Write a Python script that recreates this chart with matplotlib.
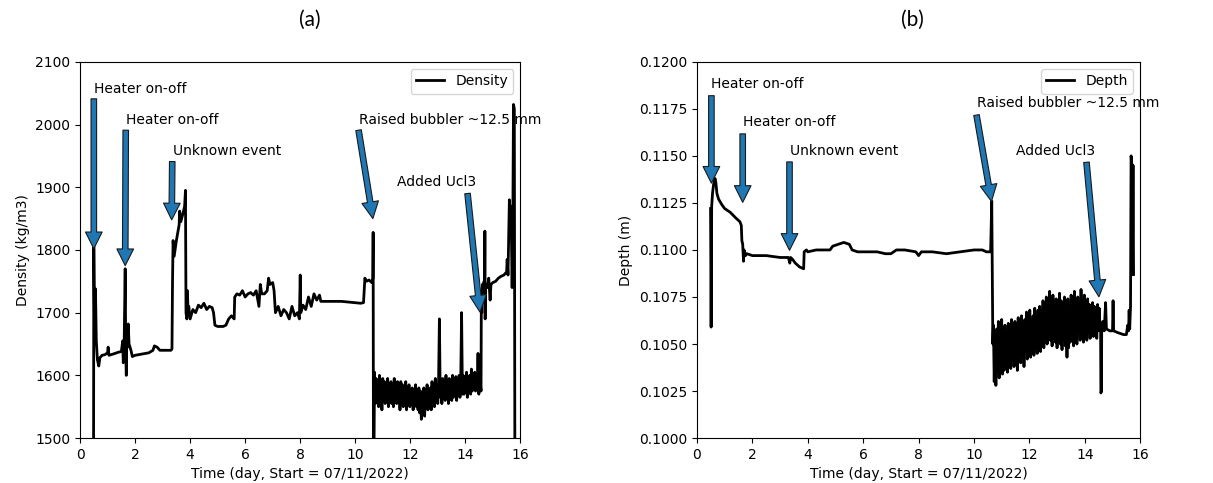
#!/usr/bin/env python3
import numpy as np
import matplotlib
matplotlib.use("Agg")
import matplotlib.pyplot as plt

# --- Density (kg/m3) ---
dens_t_start = [0.49, 0.50, 0.53, 0.56, 0.59, 0.63, 0.68, 0.72, 0.80, 0.90, 1.00, 1.02, 1.05,
                1.20, 1.40, 1.50, 1.55, 1.57, 1.60, 1.64, 1.66, 1.68, 1.70, 1.72, 1.75, 1.78,
                1.85, 1.90, 2.00, 2.50, 2.65, 2.70, 2.80, 2.90, 3.30, 3.34, 3.36, 3.38, 3.42,
                3.50, 3.60, 3.62, 3.66, 3.75, 3.80, 3.83, 3.85, 3.88, 3.90, 3.93, 3.95, 4.00,
                4.10, 4.20, 4.30, 4.40, 4.50, 4.60, 4.70, 4.80, 4.85, 4.90, 5.00, 5.20, 5.30,
                5.40, 5.50, 5.60, 5.62, 5.70, 5.80, 5.90, 6.00, 6.10, 6.20, 6.30, 6.40, 6.50,
                6.55, 6.60, 6.70, 6.80, 6.85, 6.90, 7.00, 7.05, 7.10, 7.20, 7.30, 7.40, 7.50,
                7.60, 7.70, 7.80, 7.90, 7.97, 8.00, 8.02, 8.10, 8.20, 8.30, 8.40, 8.50, 8.60,
                8.70, 8.75, 8.90, 9.50, 10.20, 10.30, 10.35, 10.40, 10.50, 10.60, 10.64,
                10.65, 10.66, 10.68]
dens_v_start = [1450, 1805, 1650, 1738, 1655, 1625, 1615, 1628, 1632, 1633, 1636, 1645, 1632,
                1634, 1637, 1638, 1655, 1620, 1642, 1770, 1640, 1600, 1662, 1645, 1682, 1650,
                1640, 1630, 1632, 1636, 1640, 1647, 1645, 1640, 1640, 1642, 1750, 1815, 1790,
                1815, 1840, 1862, 1845, 1860, 1870, 1895, 1700, 1690, 1735, 1695, 1710, 1690,
                1705, 1700, 1712, 1708, 1715, 1705, 1710, 1708, 1700, 1680, 1678, 1678, 1680,
                1690, 1695, 1690, 1725, 1730, 1728, 1735, 1725, 1730, 1732, 1728, 1735, 1710,
                1745, 1730, 1730, 1735, 1755, 1745, 1748, 1735, 1700, 1710, 1695, 1705, 1700,
                1690, 1710, 1695, 1700, 1690, 1760, 1700, 1712, 1705, 1725, 1710, 1730, 1720,
                1728, 1718, 1718, 1718, 1715, 1716, 1755, 1750, 1752, 1748, 1755,
                1828, 1480, 1470]
# noisy section after raising the bubbler (10.70 -> 14.55 d)
dens_band = [1605, 1555, 1595, 1560, 1590, 1550, 1600, 1565, 1585, 1545, 1595, 1560, 1590, 1555,
             1580, 1560, 1595, 1550, 1585, 1565, 1590, 1555, 1580, 1550, 1595, 1560, 1585,
             1555, 1590, 1560, 1580, 1545, 1590, 1555, 1585, 1550, 1575, 1560, 1590, 1545,
             1580, 1555, 1585, 1550, 1575, 1560, 1580, 1545, 1575, 1555, 1585, 1550, 1570, 1545,
             1580, 1540, 1575, 1530, 1570, 1545, 1580, 1535, 1575, 1550, 1585, 1545, 1575,
             1555, 1580, 1545, 1590, 1560, 1580, 1550, 1595, 1560, 1585, 1555, 1592, 1690, 1565,
             1590, 1555, 1595, 1565, 1585, 1560, 1600, 1565, 1590, 1555, 1595, 1570, 1585,
             1560, 1600, 1565, 1590, 1570, 1598, 1560, 1590, 1575, 1600, 1565, 1595, 1700, 1570,
             1600, 1570, 1595, 1575, 1605, 1565, 1598, 1580, 1600, 1570, 1610, 1575, 1595,
             1580, 1605, 1575, 1600, 1580, 1635, 1570, 1605, 1585]
dens_t_end = [14.57, 14.58, 14.60, 14.62, 14.65, 14.68, 14.70, 14.71, 14.72, 14.74, 14.80, 14.85,
              14.90, 14.93, 15.00, 15.10, 15.20, 15.30, 15.40, 15.50, 15.52, 15.55, 15.60, 15.63,
              15.66, 15.70, 15.72, 15.75, 15.78, 15.80]
dens_v_end = [1575, 1705, 1700, 1745, 1735, 1750, 1740, 1830, 1690, 1745, 1740, 1755,
              1720, 1745, 1748, 1750, 1755, 1758, 1760, 1765, 1785, 1760, 1880, 1840,
              1870, 1740, 1800, 2032, 2025, 1450]

# --- Depth (mm) ---
dep_t_start = [0.49, 0.51, 0.53, 0.56, 0.60, 0.65, 0.68, 0.72, 0.78, 0.90, 1.00, 1.20, 1.40,
               1.55, 1.60, 1.62, 1.65, 1.68, 1.70, 1.75, 1.80, 2.00, 2.50, 3.00, 3.30, 3.35,
               3.38, 3.45, 3.55, 3.70, 3.85, 3.87, 3.95, 4.00, 4.30, 4.50, 4.80, 4.90, 5.10,
               5.30, 5.50, 5.60, 5.80, 6.20, 6.50, 6.80, 7.00, 7.20, 7.50, 7.90, 8.00, 8.10,
               8.50, 9.00, 9.50, 10.00, 10.30, 10.45, 10.60, 10.64, 10.66, 10.68]
dep_v_start = [112.2, 105.9, 112.3, 113.0, 113.5, 113.8, 113.6, 113.0, 112.7, 112.4, 112.2, 112.0,
               111.7, 111.5, 111.3, 110.5, 110.3, 109.4, 110.0, 109.7, 109.8, 109.7, 109.7,
               109.6, 109.6, 109.3, 109.6, 109.5, 109.3, 109.1, 109.0, 109.9, 110.0, 109.9,
               110.0, 110.0, 110.0, 110.2, 110.3, 110.4, 110.3, 110.0, 109.9, 109.9, 109.9,
               109.8, 109.8, 110.0, 110.0, 109.9, 109.7, 109.9, 109.9, 109.8, 109.9, 110.0,
               110.0, 109.9, 109.9, 112.6, 109.0, 105.0]
dep_band = [106.0, 103.0, 105.5, 102.8, 105.8, 103.5, 106.2, 103.2, 105.6, 103.8, 106.3, 103.4,
            105.5, 103.6, 106.0, 103.9, 105.7, 103.5, 106.1, 104.0, 105.8, 103.7, 106.3, 104.2,
            105.9, 103.8, 106.2,
            104.0, 106.0, 103.6, 106.4, 104.3, 105.9, 104.0, 106.5, 104.4, 106.1, 103.8, 106.3,
            104.6, 106.7, 104.2, 106.0, 104.5, 106.8, 104.3, 106.2, 104.7, 106.5, 104.4, 106.9,
            104.8, 106.4, 104.5,
            106.8, 104.9, 107.0, 104.6, 106.6, 105.0, 107.3, 104.8, 106.9, 105.3, 107.5, 105.0,
            107.1, 105.5, 107.8, 105.2, 107.2, 104.9, 107.6, 105.4, 107.0, 105.1, 107.4, 104.8,
            107.2, 105.3, 107.7,
            105.0, 107.3, 104.7, 107.1, 105.2, 107.5, 104.9, 106.9, 104.3, 107.4, 104.8, 107.0,
            105.1, 107.6, 105.3, 107.2, 104.9, 107.8, 105.4, 107.1, 105.0, 107.5, 105.6, 107.2,
            105.2, 107.9, 105.5,
            107.3, 105.1, 107.6, 105.4, 107.0, 105.2, 107.4, 105.6, 107.1, 105.3, 106.9, 105.5,
            107.2, 105.4, 107.0, 105.6, 106.8, 105.3, 107.1, 105.7, 106.9, 105.8]
dep_t_end = [14.57, 14.58, 14.60, 14.61, 14.63, 14.65, 14.70, 14.75, 14.78, 14.90, 15.00, 15.02,
             15.04, 15.20, 15.40, 15.50, 15.55, 15.58, 15.60, 15.62, 15.65, 15.67, 15.70, 15.72,
             15.74, 15.76]
dep_v_end = [105.8, 102.4, 102.5, 106.0, 105.7, 106.2, 105.7, 107.2, 105.8, 105.7, 105.7, 107.3,
             105.7, 105.6, 105.5, 105.5, 106.0, 105.7, 106.8, 105.8, 107.0, 115.0, 114.5, 108.7,
             114.5, 108.7]

band_t = np.linspace(10.70, 14.55, len(dens_band))
dens_t = np.concatenate([dens_t_start, band_t, dens_t_end])
dens_v = np.concatenate([dens_v_start, dens_band, dens_v_end])
dep_t = np.concatenate([dep_t_start, np.linspace(10.70, 14.55, len(dep_band)), dep_t_end])
dep_v = np.concatenate([dep_v_start, dep_band, dep_v_end]) / 1000.0

# --- Event annotations: label, text position, arrow tail, arrow tip ---
labels = ["Heater on-off", "Heater on-off", "Unknown event", "Raised bubbler ~12.5 mm", "Added Ucl3"]
dens_text_xy = [(0.50, 2057), (1.67, 2007), (3.36, 1958), (10.12, 2007), (11.51, 1908)]
dens_tail = [(0.50, 2041), (1.66, 1991), (3.35, 1941), (10.12, 1991), (14.08, 1890)]
dens_tip = [(0.50, 1802), (1.64, 1775), (3.33, 1848), (10.64, 1850), (14.53, 1701)]
dep_text_xy = [(0.52, 0.1188), (1.67, 0.11678), (3.37, 0.11527), (10.11, 0.11779), (11.51, 0.11527)]
dep_tail = [(0.52, 0.1182), (1.65, 0.11617), (3.34, 0.11468), (10.09, 0.11717), (14.06, 0.11466)]
dep_tip = [(0.52, 0.11355), (1.65, 0.11253), (3.34, 0.10998), (10.63, 0.11258), (14.51, 0.10751)]

arrow_kw = dict(facecolor="#1f77b4", edgecolor="#1a1a1a", linewidth=0.8,
                width=4, headwidth=12, headlength=12, shrink=0)

fig = plt.figure(figsize=(12.13, 4.83), dpi=100)
ax1 = fig.add_axes([0.066, 0.093, 0.363, 0.779])
ax2 = fig.add_axes([0.5746, 0.093, 0.3654, 0.779])


def draw_panel(ax, t, v, name, ylabel, ylim, yticks, fmt, text_xy, tails, tips):
    ax.plot(t, v, color="black", lw=2.0, label=name)
    for lab, txy, tail, tip in zip(labels, text_xy, tails, tips):
        ax.text(txy[0], txy[1], lab, fontsize=10, ha="left", va="center")
        ax.annotate("", xy=tip, xytext=tail, arrowprops=arrow_kw)
    ax.set_xlim(0, 16)
    ax.set_ylim(*ylim)
    ax.set_yticks(yticks)
    ax.set_yticklabels([fmt.format(y) for y in yticks])
    ax.set_xticks(range(0, 17, 2))
    ax.set_xlabel("Time (day, Start = 07/11/2022)")
    ax.set_ylabel(ylabel)
    ax.legend(loc="upper right")


draw_panel(ax1, dens_t, dens_v, "Density", "Density (kg/m3)", (1500, 2100),
           list(range(1500, 2101, 100)), "{:.0f}", dens_text_xy, dens_tail, dens_tip)
draw_panel(ax2, dep_t, dep_v, "Depth", "Depth (m)", (0.1, 0.12),
           list(np.arange(0.1, 0.12001, 0.0025)), "{:.4f}", dep_text_xy, dep_tail, dep_tip)

fig.text(310 / 1213, 1 - 20 / 483, "(a)", fontsize=15, family="Lato", ha="center", va="center")
fig.text(912 / 1213, 1 - 20 / 483, "(b)", fontsize=15, family="Lato", ha="center", va="center")

fig.savefig("out.png", dpi=100)
